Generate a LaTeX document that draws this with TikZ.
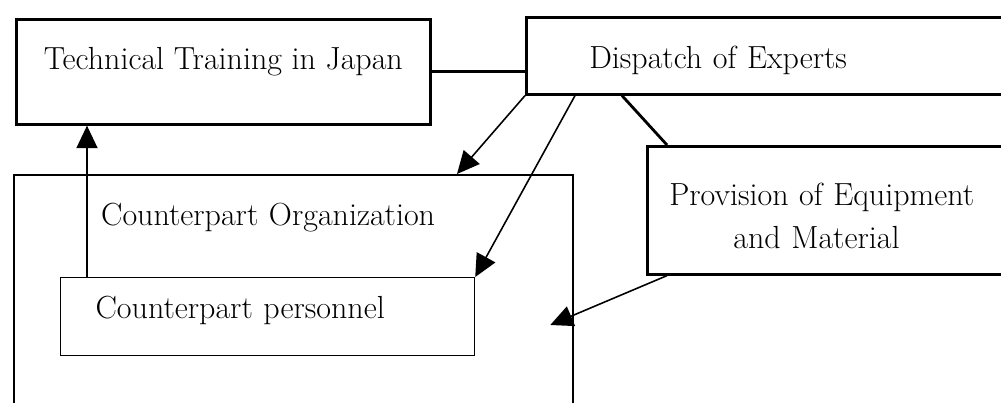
\documentclass[tikz,border=0pt]{standalone}
\usepackage{amsmath}
\usepackage{tikz}
\usetikzlibrary{arrows.meta}
\pgfdeclarelayer{bg}
\pgfsetlayers{bg,main}

\begin{document}
\begin{tikzpicture}[font=\fontsize{18.2}{24.4}\selectfont,
        box/.style={draw, rectangle, anchor=north west, line width=1.5pt},
        thinbox/.style={draw, rectangle, anchor=north west, line width=0.7pt},
        arr/.style={line width=0.9pt, -{Triangle[length=0.45cm, width=0.42cm]}},
        link/.style={line width=1.9pt}]
        \useasboundingbox (0cm, 0cm) rectangle (20.02cm, 8.06cm);
        \clip (0cm, 0cm) rectangle (20.02cm, 8.06cm);
        \node (tt) [box, minimum width=8.28cm, inner ysep=0.55cm, text height=0.45cm, text depth=0.55cm] at (0.30cm, 7.70cm) {Technical Training in Japan};
        \node (doe) [box, align=left, text width=7.78cm, inner xsep=1.26cm, inner ysep=0.50cm, text height=0.52cm, text depth=0.02cm] at (10.50cm, 7.74cm) {Dispatch of Experts};
        \node (prov) [box, align=left, text width=7.00cm, inner xsep=0.44cm, inner ysep=0.58cm, text height=0.60cm, text depth=0.80cm] at (12.92cm, 5.16cm) {Provision of Equipment\\\hspace*{1.28cm}and Material};
        \node (org) [box, line width=1.3pt, align=left, text width=7.70cm, inner xsep=1.74cm, inner ysep=0.55cm, text height=0.45cm, text depth=3.37cm] at (0.26cm, 4.58cm) {Counterpart Organization};
        \node (cp) [thinbox, align=left, text width=6.88cm, inner xsep=0.70cm, inner ysep=0.40cm, text height=0.42cm, text depth=0.34cm] at (1.20cm, 2.52cm) {Counterpart personnel};
        \coordinate (up) at ([xshift=0.54cm]cp.north west);
        \coordinate (tip) at ([xshift=-0.48cm, yshift=-3.02cm]org.north east);
        \begin{pgfonlayer}{bg}
                \draw [link] (tt.east) -- (tt.east -| doe.west);
                \draw [link, line width=1.6pt] ([xshift=1.94cm]doe.south west) -- ([xshift=0.42cm]prov.north west);
                \draw [arr] (up) -- (up |- tt.south);
                \draw [arr] (doe.south west) -- ([xshift=8.88cm]org.north west);
                \draw [arr] ([xshift=1.00cm]doe.south west) -- (cp.north east);
                \draw [arr] ([xshift=0.42cm]prov.south west) -- (tip);
        \end{pgfonlayer}
\end{tikzpicture}
\end{document}
